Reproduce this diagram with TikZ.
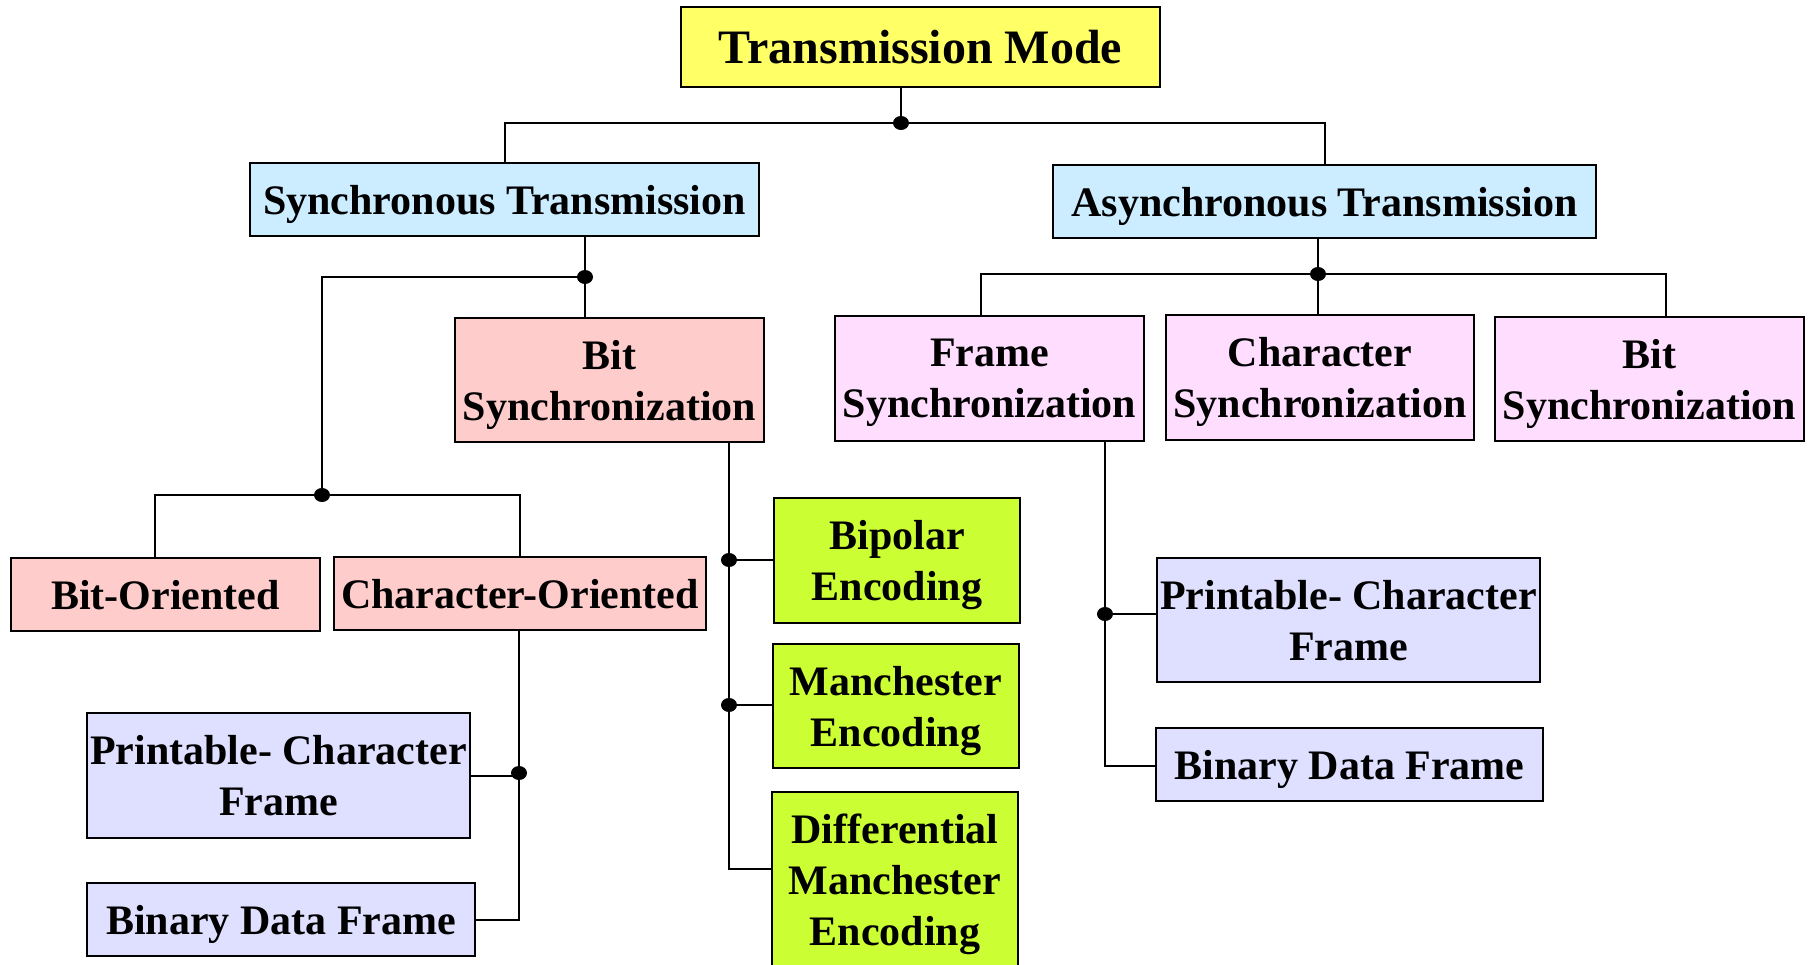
\documentclass[tikz,border=0pt]{standalone}
\usepackage{fontspec}
\setmainfont{Liberation Serif}
\begin{document}
\begin{tikzpicture}[x=0.5pt,y=-0.5pt,
  box/.style={draw=black, line width=1.2pt, inner sep=0pt, align=center,
    text depth=0pt, font=\fontsize{21pt}{25.5pt}\selectfont\bfseries},
  sz/.style 2 args={minimum width={#1*0.5pt}, minimum height={#2*0.5pt}},
  link/.style={draw=black, line width=1pt},
  dot/.style={fill=black},
]
\definecolor{cYellow}{HTML}{FFFF66}
\definecolor{cBlue}{HTML}{CCECFF}
\definecolor{cSalmon}{HTML}{FFCCCC}
\definecolor{cOrchid}{HTML}{FFDDFF}
\definecolor{cLavender}{HTML}{DFDFFF}
\definecolor{cLime}{HTML}{CCFF33}

\path[use as bounding box] (0,0) rectangle (1814,964);
\clip (0,0) rectangle (1814,964);

% ---- boxes ----
\node[box, fill=cYellow, sz={479}{80}, font=\fontsize{24pt}{28pt}\selectfont\bfseries] (tm) at (920.5,47) {Transmission Mode};

\node[box, fill=cBlue, sz={509}{73}] (sync) at (504.5,199.5) {Synchronous Transmission};
\node[box, fill=cBlue, sz={543}{73}] (async) at (1324.5,201.5) {Asynchronous Transmission};

\node[box, fill=cSalmon, sz={309}{124}] (bitsync) at (609.5,380) {Bit\\Synchronization};
\node[box, fill=cSalmon, sz={309}{73}] (bitor) at (165.5,594.5) {Bit-Oriented};
\node[box, fill=cSalmon, sz={372}{73}] (charor) at (520,593.5) {Character-Oriented};

\node[box, fill=cLavender, sz={383}{125}] (pcfl) at (278.5,775.5) {Printable- Character\\Frame};
\node[box, fill=cLavender, sz={388}{73}] (bdfl) at (281,919.5) {Binary Data Frame};

\node[box, fill=cLime, sz={246}{125}] (bip) at (897,560.5) {Bipolar\\Encoding};
\node[box, fill=cLime, sz={246}{124}] (man) at (896,706) {Manchester\\Encoding};
\node[box, fill=cLime, sz={246}{176}] (diff) at (895,880) {Differential\\Manchester\\Encoding};

\node[box, fill=cOrchid, sz={309}{125}] (fsync) at (989.5,378.5) {Frame\\Synchronization};
\node[box, fill=cOrchid, sz={308}{125}] (csync) at (1320,377.5) {Character\\Synchronization};
\node[box, fill=cOrchid, sz={309}{124}] (bsync) at (1649.5,379) {Bit\\Synchronization};

\node[box, fill=cLavender, sz={383}{124}] (pcfr) at (1348.5,620) {Printable- Character\\Frame};
\node[box, fill=cLavender, sz={387}{73}] (bdfr) at (1349.5,764.5) {Binary Data Frame};

% ---- junction points ----
\coordinate (j0) at (901,123);
\coordinate (j1) at (585,277);
\coordinate (j2) at (322,495);
\coordinate (j2l) at (155,495);
\coordinate (j2r) at (520,495);
\coordinate (j3) at (519,773);
\coordinate (jb) at (729,442);
\coordinate (j4) at (729,560);
\coordinate (j5) at (729,705);
\coordinate (j6) at (729,869);
\coordinate (j7) at (1318,274);
\coordinate (j7l) at (981,274);
\coordinate (j7r) at (1666,274);
\coordinate (jf) at (1105,441);
\coordinate (j8) at (1105,614);
\coordinate (j9) at (1105,766);

% ---- connectors ----
\draw[link] (tm.south -| j0) -- (j0);
\draw[link] (sync.north) |- (j0) -| (async.north);

\draw[link] (sync.south -| j1) -- (j1) -- (bitsync.north -| j1);
\draw[link] (j1) -| (j2);
\draw[link] (bitor.north -| j2l) -- (j2l) -- (j2r) -- (charor.north -| j2r);

\draw[link] (charor.south -| j3) -- (j3) |- (bdfl.east);
\draw[link] (pcfl.east) -- (pcfl.east -| j3);

\draw[link] (jb) -- (j6) -- (j6 -| diff.west);
\draw[link] (j4) -- (j4 -| bip.west);
\draw[link] (j5) -- (j5 -| man.west);

\draw[link] (async.south -| j7) -- (j7) -- (csync.north -| j7);
\draw[link] (fsync.north -| j7l) -- (j7l) -- (j7r) -- (bsync.north -| j7r);

\draw[link] (jf) -- (j9) -- (bdfr.west |- j9);
\draw[link] (j8) -- (j8 -| pcfr.west);

% ---- junction dots ----
\foreach \p in {j0,j1,j2,j3,j4,j5,j7,j8}
  \fill[dot] (\p) ellipse [x radius=8, y radius=7];
\end{tikzpicture}
\end{document}
